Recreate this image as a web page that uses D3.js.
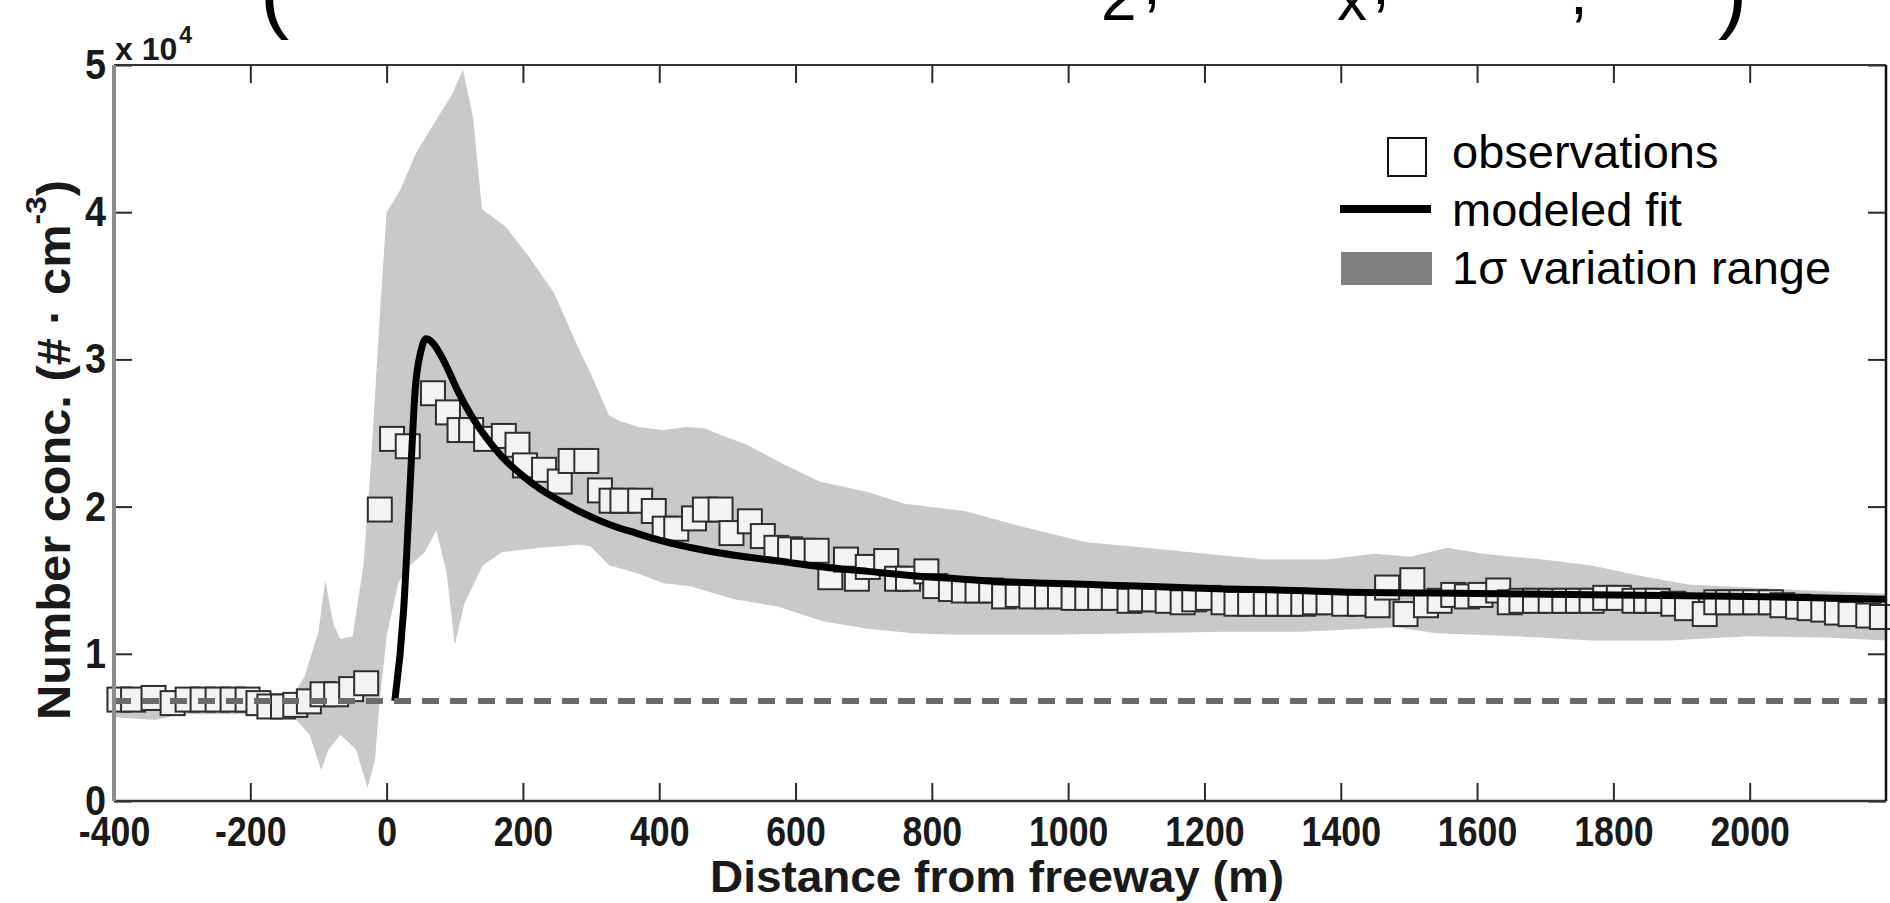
<!DOCTYPE html>
<html>
<head>
<meta charset="utf-8">
<script src="https://cdn.jsdelivr.net/npm/d3@7"></script>
<style>
html, body { margin: 0; padding: 0; background: #fff; }
svg { display: block; font-family: "Liberation Sans", Arial, sans-serif; }
</style>
</head>
<body>
<svg id="chart"></svg>
<script>
// ---- data (concentration in # / cm^3, distance in m) ----
const obsX = [-392, -372, -342, -314, -292, -270, -248, -226, -204, -188, -172, -152, -134, -114, -94, -74, -52, -30,
  -10, 8, 31, 68, 90, 107, 124, 146, 172, 192, 203, 231, 254, 270, 293, 313, 330, 346, 372, 392, 408, 425,
  451, 467, 490, 506, 533, 552, 572, 592, 611, 631, 651, 674, 690, 706, 733, 749, 765, 792, 805, 828, 847, 867, 887,
  906, 926, 946, 969, 988, 1008, 1028, 1047, 1067, 1090, 1106, 1126, 1146, 1168, 1185, 1205, 1228, 1247, 1267, 1290, 1308,
  1325, 1345, 1362, 1382, 1405, 1428, 1454, 1468, 1495, 1505, 1525, 1545, 1565, 1585, 1605, 1631, 1648, 1665, 1685,
  1708, 1728, 1748, 1768, 1788, 1808, 1831, 1848, 1865, 1888, 1908, 1934, 1951, 1968, 1988, 2008, 2031, 2048, 2071,
  2088, 2108, 2128, 2148, 2174, 2194];
const obsY = [6890, 6890, 7000, 6650, 6890, 6890, 6890, 6890, 6890, 6650, 6420, 6420, 6530, 6770, 7250, 7250, 7600, 8000,
  19800, 24600, 24100, 27700, 26400, 25200, 25200, 24600, 24800, 24200, 22800, 22500, 21700, 23100, 23100, 21100, 20400, 20400, 20400, 19700, 18500, 18500,
  19200, 19800, 19800, 18200, 19000, 18000, 17200, 17100, 17000, 17000, 15200, 16400, 15100, 15900, 16300, 15100, 15100, 15600, 14600, 14400, 14300, 14300, 14300,
  13900, 14000, 13900, 13900, 13900, 13800, 13800, 13800, 13800, 13600, 13700, 13700, 13600, 13500, 13700, 13800, 13500, 13400, 13400, 13400, 13400,
  13400, 13400, 13500, 13500, 13400, 13400, 13300, 14500, 12700, 15000, 13300, 13600, 14000, 13900, 14000, 14300, 13500, 13600, 13600,
  13600, 13600, 13600, 13600, 13800, 13800, 13600, 13600, 13600, 13400, 13100, 12700, 13500, 13500, 13500, 13500, 13500, 13300, 13200,
  13100, 13000, 12800, 12700, 12600, 12500];

const fitX = [12, 25, 34, 42, 50, 58, 68, 85, 104, 124, 146, 169, 197, 225, 254, 282, 310, 338, 366, 394, 428, 470, 510,
  575, 641, 706, 772, 837, 903, 969, 1034, 1100, 1165, 1231, 1296, 1400, 1600, 1800, 2000, 2200];
const fitY = [6800, 13000, 21000, 28000, 30500, 31400, 31100, 29800, 27900, 26200, 24700, 23400, 22200, 21200, 20400, 19700,
  19100, 18600, 18200, 17800, 17400, 17000, 16700, 16300, 15900, 15600, 15300, 15100, 14900, 14800, 14700, 14600, 14500,
  14400, 14350, 14200, 14100, 14000, 13900, 13700];

const bandUpperX = [-400, -300, -200, -140, -120, -100, -90, -78, -68, -50, -34, -23, -10, 0, 20, 43, 69, 96, 112, 127, 140,
  175, 210, 246, 281, 299, 326, 343, 370, 405, 441, 467, 494, 529, 582, 635, 706, 760, 848, 936, 1025, 1113, 1202, 1290,
  1379, 1450, 1503, 1556, 1609, 1697, 1768, 1839, 1910, 1999, 2087, 2200];
const bandUpperY = [7000, 7000, 7000, 7000, 8500, 11500, 15000, 12000, 11000, 11200, 16000, 23000, 33000, 40000, 41500, 44000,
  46000, 48000, 49700, 46400, 40200, 39000, 36900, 34500, 30800, 29100, 26200, 25800, 25400, 25200, 25400, 25300, 24800,
  24200, 22900, 21700, 21000, 20200, 19700, 18600, 17600, 17200, 16800, 16400, 16400, 16800, 16600, 17200, 16800, 16400,
  16000, 15300, 14700, 14500, 14300, 14100];
const bandLowerX = [-400, -340, -300, -200, -140, -113, -96, -85, -68, -45, -28, -17, -11, 0, 17, 34, 56, 73, 88, 100, 114,
  141, 169, 225, 282, 299, 327, 366, 406, 444, 510, 575, 641, 706, 772, 837, 969, 1100, 1231, 1341, 1482, 1540, 1654, 1768,
  1882, 1997, 2111, 2200];
const bandLowerY = [5700, 5500, 5900, 5900, 5900, 4500, 2100, 3500, 4500, 3500, 900, 2800, 6400, 11200, 14800, 16000, 16900,
  18400, 15500, 10600, 13400, 16000, 16900, 17200, 17400, 17300, 16000, 15500, 14800, 14600, 13700, 13200, 12200, 11700,
  11400, 11300, 11300, 11400, 11500, 11500, 11800, 11400, 11200, 10900, 10900, 11200, 11100, 10900];

const baseX = [-400, 2200];
const baseY = 6800;

const xTickValues = [-400, -200, 0, 200, 400, 600, 800, 1000, 1200, 1400, 1600, 1800, 2000];
const yTickValues = [0, 10000, 20000, 30000, 40000, 50000];
const legendLabels = ["observations", "modeled fit", "1σ variation range"];

// ---- layout ----
const width = 1890, height = 903;
const x = d3.scaleLinear().domain([-400, 2200]).range([114, 1886]);
const y = d3.scaleLinear().domain([0, 50000]).range([801, 65]);
const sq = 24;

const svg = d3.select("#chart").attr("width", width).attr("height", height);

function squeeze(sel, k) {
  sel.each(function() {
    const w = this.getComputedTextLength();
    d3.select(this).attr("textLength", w * k).attr("lengthAdjust", "spacingAndGlyphs");
  });
}

// cut-off formula remnants along the very top edge
const frag = svg.append("g").attr("fill", "#000");
frag.append("text").attr("x", 260).attr("y", 22).attr("font-size", 88).text("(");
frag.append("text").attr("x", 1101).attr("y", 20).attr("font-size", 64).text("2");
frag.append("text").attr("x", 1143).attr("y", 4).attr("font-size", 64).text(",");
frag.append("text").attr("x", 1337).attr("y", 20).attr("font-size", 60).text("x");
frag.append("text").attr("x", 1372).attr("y", 4).attr("font-size", 64).text(",");
frag.append("text").attr("x", 1570).attr("y", 14).attr("font-size", 64).text(",");
frag.append("text").attr("x", 1718).attr("y", 22).attr("font-size", 88).text(")");

// 1 sigma band
const bandPts = bandUpperX.map((d, i) => [d, bandUpperY[i]])
  .concat(bandLowerX.map((d, i) => [d, bandLowerY[i]]).reverse());
svg.append("path")
  .attr("d", d3.line().x(d => x(d[0])).y(d => y(d[1]))(bandPts) + "Z")
  .attr("fill", "#c9c9c9");

// observations
svg.append("g").selectAll("rect")
  .data(obsX.map((d, i) => ({x: d, y: obsY[i]})))
  .join("rect")
  .attr("x", d => x(d.x) - sq / 2)
  .attr("y", d => y(d.y) - sq / 2)
  .attr("width", sq).attr("height", sq)
  .attr("fill", "#f3f3f3")
  .attr("stroke", "#2e2e2e")
  .attr("stroke-width", 2);

// modeled fit
svg.append("path")
  .datum(fitX.map((d, i) => [d, fitY[i]]))
  .attr("d", d3.line().x(d => x(d[0])).y(d => y(d[1])).curve(d3.curveMonotoneX))
  .attr("fill", "none")
  .attr("stroke", "#000")
  .attr("stroke-width", 7)
  .attr("stroke-linejoin", "round");

// background level (dashed)
svg.append("line")
  .attr("x1", x(baseX[0])).attr("x2", x(baseX[1]))
  .attr("y1", y(baseY)).attr("y2", y(baseY))
  .attr("stroke", "#6a6a6a")
  .attr("stroke-width", 6)
  .attr("stroke-dasharray", "17,11");

// axes (ticks inside, matlab style)
const tickStyle = g => {
  g.select(".domain").remove();
  g.selectAll(".tick line").attr("stroke", "#2a2a2a").attr("stroke-width", 2);
};

const gxb = svg.append("g").attr("transform", `translate(0,${y(0)})`)
  .call(d3.axisBottom(x).tickValues(xTickValues).tickSizeInner(-18).tickSizeOuter(0).tickFormat(d => String(d)))
  .call(tickStyle);
gxb.selectAll(".tick text")
  .attr("y", 45).attr("dy", null)
  .attr("font-size", 42).attr("font-weight", "bold")
  .attr("font-family", "'Liberation Sans', Arial, sans-serif")
  .attr("fill", "#1a1a1a")
  .call(squeeze, 0.85);

svg.append("g").attr("transform", `translate(0,${y(50000)})`)
  .call(d3.axisTop(x).tickValues(xTickValues).tickSizeInner(-18).tickSizeOuter(0).tickFormat(""))
  .call(tickStyle);

const gyl = svg.append("g").attr("transform", `translate(${x(-400)},0)`)
  .call(d3.axisLeft(y).tickValues(yTickValues).tickSizeInner(-18).tickSizeOuter(0).tickPadding(8).tickFormat(d => String(d / 10000)))
  .call(tickStyle);
gyl.selectAll(".tick text")
  .attr("font-size", 42).attr("font-weight", "bold")
  .attr("font-family", "'Liberation Sans', Arial, sans-serif")
  .attr("fill", "#1a1a1a")
  .call(squeeze, 0.9);

svg.append("g").attr("transform", `translate(${x(2200)},0)`)
  .call(d3.axisRight(y).tickValues(yTickValues).tickSizeInner(-18).tickSizeOuter(0).tickFormat(""))
  .call(tickStyle);

// frame
const frame = svg.append("g").attr("fill", "none");
frame.append("line").attr("x1", x(-400)).attr("x2", x(2200)).attr("y1", y(50000)).attr("y2", y(50000))
  .attr("stroke", "#333").attr("stroke-width", 2);
frame.append("line").attr("x1", x(-400)).attr("x2", x(2200)).attr("y1", y(0)).attr("y2", y(0))
  .attr("stroke", "#333").attr("stroke-width", 2.5);
frame.append("line").attr("x1", x(2200)).attr("x2", x(2200)).attr("y1", y(50000)).attr("y2", y(0))
  .attr("stroke", "#111").attr("stroke-width", 2.5);
frame.append("line").attr("x1", x(-400)).attr("x2", x(-400)).attr("y1", y(50000)).attr("y2", y(0))
  .attr("stroke", "#8c8c8c").attr("stroke-width", 4);

// exponent label
const expo = svg.append("text").attr("x", 115).attr("y", 60)
  .attr("font-size", 32).attr("font-weight", "bold").attr("fill", "#1a1a1a");
expo.append("tspan").text("x 10");
expo.append("tspan").attr("dx", 2).attr("dy", -17).attr("font-size", 23).text("4");

// axis titles
svg.append("text")
  .attr("x", 997).attr("y", 892)
  .attr("text-anchor", "middle")
  .attr("font-size", 45).attr("font-weight", "bold").attr("fill", "#1a1a1a")
  .attr("textLength", 574).attr("lengthAdjust", "spacingAndGlyphs")
  .text("Distance from freeway (m)");

const ylab = svg.append("text")
  .attr("transform", "translate(70,450) rotate(-90)")
  .attr("text-anchor", "middle")
  .attr("font-size", 46).attr("font-weight", "bold").attr("fill", "#1a1a1a")
  .attr("textLength", 540).attr("lengthAdjust", "spacingAndGlyphs");
ylab.append("tspan").text("Number conc. (# · cm");
ylab.append("tspan").attr("dy", -24).attr("font-size", 30).text("-3");
ylab.append("tspan").attr("dy", 24).text(")");

// legend
const leg = svg.append("g");
leg.append("rect").attr("x", 1388).attr("y", 138).attr("width", 38).attr("height", 38)
  .attr("fill", "#fff").attr("stroke", "#111").attr("stroke-width", 2);
leg.append("line").attr("x1", 1340).attr("x2", 1431).attr("y1", 209).attr("y2", 209)
  .attr("stroke", "#000").attr("stroke-width", 8);
leg.append("rect").attr("x", 1341).attr("y", 252).attr("width", 91).attr("height", 33)
  .attr("fill", "#808080");
leg.selectAll("text.lab").data(legendLabels).join("text")
  .attr("class", "lab")
  .attr("x", 1452)
  .attr("y", (d, i) => [168, 226, 284][i])
  .attr("font-size", 47)
  .attr("fill", "#000")
  .text(d => d);
</script>
</body>
</html>
